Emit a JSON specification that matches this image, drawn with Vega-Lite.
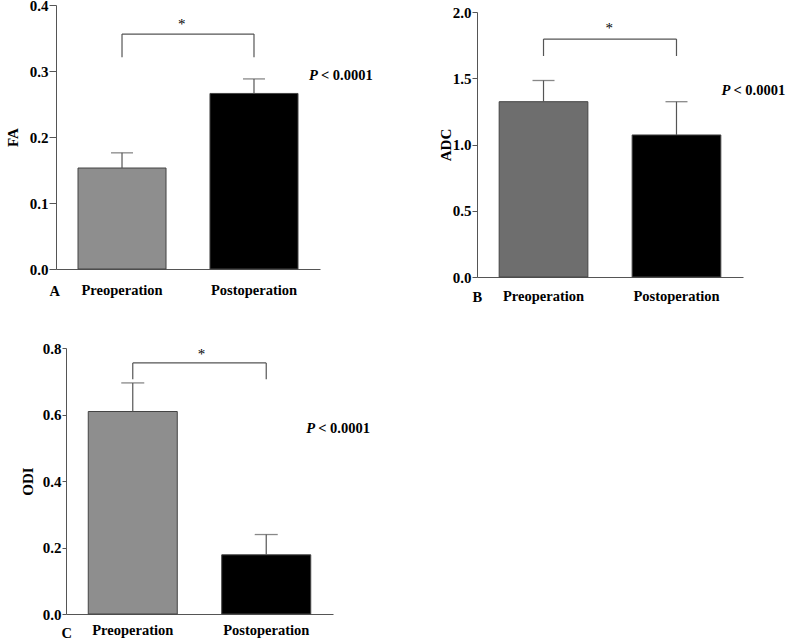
{
  "$schema": "https://vega.github.io/schema/vega-lite/v6.json",
  "padding": {"left": 5, "top": -2, "right": 0, "bottom": 0},
  "background": "white",
  "config": {
    "view": {"stroke": null},
    "font": "Liberation Serif",
    "axis": {
      "labelFont": "Liberation Serif",
      "labelFontWeight": "bold",
      "labelFontSize": 15,
      "labelColor": "#000000",
      "titleFont": "Liberation Serif",
      "titleFontWeight": "bold",
      "titleFontSize": 15,
      "titleColor": "#000000",
      "domainColor": "#555555",
      "tickColor": "#555555",
      "grid": false
    },
    "axisY": {"tickSize": 6, "labelPadding": 1},
    "axisX": {"ticks": false, "tickSize": 0, "labelAngle": 0, "titleAngle": 0, "titleAlign": "left", "titleBaseline": "middle", "labelFontSize": 14.5, "titleFontSize": 14.5},
    "text": {"font": "Liberation Serif", "fontWeight": "bold", "fontSize": 14.5, "align": "left", "baseline": "middle", "color": "#000000"}
  },
  "resolve": {"scale": {"color": "independent"}},
  "vconcat": [
    {
      "resolve": {"scale": {"color": "independent"}},
      "hconcat": [
        {
          "width": 264,
          "height": 264,
          "layer": [
            {
              "data": {"values": [
                {"group": "Preoperation", "value": 0.153, "upper": 0.176},
                {"group": "Postoperation", "value": 0.266, "upper": 0.288}
              ]},
              "mark": {"type": "bar", "stroke": "#444444", "strokeWidth": 1},
              "encoding": {
                "x": {"field": "group", "type": "nominal", "sort": ["Preoperation", "Postoperation"], "scale": {"paddingInner": 0.333, "paddingOuter": 0.1667}, "axis": {"title": "A", "titleX": -7, "titleY": 22, "labelPadding": 14}},
                "y": {"field": "value", "type": "quantitative", "scale": {"domain": [0, 0.4]}, "axis": {"title": "FA", "values": [0, 0.1, 0.2, 0.3, 0.4], "format": ".1f", "titlePadding": 9, "tickSize": 7}},
                "color": {"field": "group", "type": "nominal", "scale": {"domain": ["Preoperation", "Postoperation"], "range": ["#8e8e8e", "#000000"]}, "legend": null}
              }
            },
            {
              "data": {"values": [
                {"group": "Preoperation", "value": 0.153, "upper": 0.176},
                {"group": "Postoperation", "value": 0.266, "upper": 0.288}
              ]},
              "mark": {"type": "rule", "color": "#555555", "strokeWidth": 1.2},
              "encoding": {
                "x": {"field": "group", "type": "nominal", "sort": ["Preoperation", "Postoperation"]},
                "y": {"field": "value", "type": "quantitative"},
                "y2": {"field": "upper"}
              }
            },
            {
              "data": {"values": [
                {"group": "Preoperation", "upper": 0.176},
                {"group": "Postoperation", "upper": 0.288}
              ]},
              "mark": {"type": "tick", "color": "#555555", "size": 22, "thickness": 1.3},
              "encoding": {
                "x": {"field": "group", "type": "nominal", "sort": ["Preoperation", "Postoperation"]},
                "y": {"field": "upper", "type": "quantitative"}
              }
            },
            {
              "data": {"values": [{"group": "Preoperation", "group2": "Postoperation", "level": 0.356}]},
              "mark": {"type": "rule", "color": "#555555", "strokeWidth": 1.2},
              "encoding": {
                "x": {"field": "group", "type": "nominal", "sort": ["Preoperation", "Postoperation"]},
                "x2": {"field": "group2"},
                "y": {"field": "level", "type": "quantitative"}
              }
            },
            {
              "data": {"values": [
                {"group": "Preoperation", "level": 0.356, "drop": 0.321},
                {"group": "Postoperation", "level": 0.356, "drop": 0.321}
              ]},
              "mark": {"type": "rule", "color": "#555555", "strokeWidth": 1.2},
              "encoding": {
                "x": {"field": "group", "type": "nominal", "sort": ["Preoperation", "Postoperation"]},
                "y": {"field": "drop", "type": "quantitative"},
                "y2": {"field": "level"}
              }
            },
            {
              "data": {"values": [{"group": "Preoperation", "pos": 0.371, "label": "*"}]},
              "mark": {"type": "text", "dx": 56, "fontWeight": "normal", "fontSize": 15},
              "encoding": {
                "x": {"field": "group", "type": "nominal", "sort": ["Preoperation", "Postoperation"]},
                "y": {"field": "pos", "type": "quantitative"},
                "text": {"field": "label"}
              }
            },
            {
              "data": {"values": [{"group": "Postoperation", "pos": 0.292, "label": "P"}]},
              "mark": {"type": "text", "dx": 55, "fontStyle": "italic"},
              "encoding": {
                "x": {"field": "group", "type": "nominal", "sort": ["Preoperation", "Postoperation"]},
                "y": {"field": "pos", "type": "quantitative"},
                "text": {"field": "label"}
              }
            },
            {
              "data": {"values": [{"group": "Postoperation", "pos": 0.292, "label": "< 0.0001"}]},
              "mark": {"type": "text", "dx": 67},
              "encoding": {
                "x": {"field": "group", "type": "nominal", "sort": ["Preoperation", "Postoperation"]},
                "y": {"field": "pos", "type": "quantitative"},
                "text": {"field": "label"}
              }
            }
          ]
        },
        {
          "vconcat": [
            {
              "width": 1,
              "height": 1,
              "data": {"values": []},
              "mark": {"type": "point", "opacity": 0},
              "encoding": {}
            },
            {
              "width": 266,
              "height": 265,
              "layer": [
                {
                  "data": {"values": [
                    {"group": "Preoperation", "value": 1.323, "upper": 1.483},
                    {"group": "Postoperation", "value": 1.072, "upper": 1.323}
                  ]},
                  "mark": {"type": "bar", "stroke": "#444444", "strokeWidth": 1},
                  "encoding": {
                    "x": {"field": "group", "type": "nominal", "sort": ["Preoperation", "Postoperation"], "scale": {"paddingInner": 0.333, "paddingOuter": 0.1667}, "axis": {"title": "B", "titleX": -5, "titleY": 20, "labelPadding": 12}},
                    "y": {"field": "value", "type": "quantitative", "scale": {"domain": [0, 2]}, "axis": {"title": "ADC", "values": [0, 0.5, 1, 1.5, 2], "format": ".1f", "titlePadding": -1, "tickSize": 5}},
                    "color": {"field": "group", "type": "nominal", "scale": {"domain": ["Preoperation", "Postoperation"], "range": ["#6e6e6e", "#000000"]}, "legend": null}
                  }
                },
                {
                  "data": {"values": [
                    {"group": "Preoperation", "value": 1.323, "upper": 1.483},
                    {"group": "Postoperation", "value": 1.072, "upper": 1.323}
                  ]},
                  "mark": {"type": "rule", "color": "#555555", "strokeWidth": 1.2},
                  "encoding": {
                    "x": {"field": "group", "type": "nominal", "sort": ["Preoperation", "Postoperation"]},
                    "y": {"field": "value", "type": "quantitative"},
                    "y2": {"field": "upper"}
                  }
                },
                {
                  "data": {"values": [
                    {"group": "Preoperation", "upper": 1.483},
                    {"group": "Postoperation", "upper": 1.323}
                  ]},
                  "mark": {"type": "tick", "color": "#555555", "size": 22, "thickness": 1.3},
                  "encoding": {
                    "x": {"field": "group", "type": "nominal", "sort": ["Preoperation", "Postoperation"]},
                    "y": {"field": "upper", "type": "quantitative"}
                  }
                },
                {
                  "data": {"values": [{"group": "Preoperation", "group2": "Postoperation", "level": 1.796}]},
                  "mark": {"type": "rule", "color": "#555555", "strokeWidth": 1.2},
                  "encoding": {
                    "x": {"field": "group", "type": "nominal", "sort": ["Preoperation", "Postoperation"]},
                    "x2": {"field": "group2"},
                    "y": {"field": "level", "type": "quantitative"}
                  }
                },
                {
                  "data": {"values": [
                    {"group": "Preoperation", "level": 1.796, "drop": 1.668},
                    {"group": "Postoperation", "level": 1.796, "drop": 1.668}
                  ]},
                  "mark": {"type": "rule", "color": "#555555", "strokeWidth": 1.2},
                  "encoding": {
                    "x": {"field": "group", "type": "nominal", "sort": ["Preoperation", "Postoperation"]},
                    "y": {"field": "drop", "type": "quantitative"},
                    "y2": {"field": "level"}
                  }
                },
                {
                  "data": {"values": [{"group": "Preoperation", "pos": 1.879, "label": "*"}]},
                  "mark": {"type": "text", "dx": 62, "fontWeight": "normal", "fontSize": 15},
                  "encoding": {
                    "x": {"field": "group", "type": "nominal", "sort": ["Preoperation", "Postoperation"]},
                    "y": {"field": "pos", "type": "quantitative"},
                    "text": {"field": "label"}
                  }
                },
                {
                  "data": {"values": [{"group": "Postoperation", "pos": 1.404, "label": "P"}]},
                  "mark": {"type": "text", "dx": 45, "fontStyle": "italic"},
                  "encoding": {
                    "x": {"field": "group", "type": "nominal", "sort": ["Preoperation", "Postoperation"]},
                    "y": {"field": "pos", "type": "quantitative"},
                    "text": {"field": "label"}
                  }
                },
                {
                  "data": {"values": [{"group": "Postoperation", "pos": 1.404, "label": "< 0.0001"}]},
                  "mark": {"type": "text", "dx": 57},
                  "encoding": {
                    "x": {"field": "group", "type": "nominal", "sort": ["Preoperation", "Postoperation"]},
                    "y": {"field": "pos", "type": "quantitative"},
                    "text": {"field": "label"}
                  }
                }
              ]
            }
          ],
          "spacing": -1
        }
      ],
      "spacing": 65
    },
    {
      "hconcat": [
        {
          "width": 1,
          "height": 1,
          "data": {"values": []},
          "mark": {"type": "point", "opacity": 0},
          "encoding": {}
        },
        {
          "width": 267,
          "height": 266,
          "layer": [
            {
              "data": {"values": [
                {"group": "Preoperation", "value": 0.609, "upper": 0.695},
                {"group": "Postoperation", "value": 0.178, "upper": 0.239}
              ]},
              "mark": {"type": "bar", "stroke": "#444444", "strokeWidth": 1},
              "encoding": {
                "x": {"field": "group", "type": "nominal", "sort": ["Preoperation", "Postoperation"], "scale": {"paddingInner": 0.333, "paddingOuter": 0.1667}, "axis": {"title": "C", "titleX": -5, "titleY": 19, "labelPadding": 9}},
                "y": {"field": "value", "type": "quantitative", "scale": {"domain": [0, 0.8]}, "axis": {"title": "ODI", "values": [0, 0.2, 0.4, 0.6, 0.8], "format": ".1f", "titlePadding": 7, "tickSize": 4}},
                "color": {"field": "group", "type": "nominal", "scale": {"domain": ["Preoperation", "Postoperation"], "range": ["#8e8e8e", "#000000"]}, "legend": null}
              }
            },
            {
              "data": {"values": [
                {"group": "Preoperation", "value": 0.609, "upper": 0.695},
                {"group": "Postoperation", "value": 0.178, "upper": 0.239}
              ]},
              "mark": {"type": "rule", "color": "#555555", "strokeWidth": 1.2},
              "encoding": {
                "x": {"field": "group", "type": "nominal", "sort": ["Preoperation", "Postoperation"]},
                "y": {"field": "value", "type": "quantitative"},
                "y2": {"field": "upper"}
              }
            },
            {
              "data": {"values": [
                {"group": "Preoperation", "upper": 0.695},
                {"group": "Postoperation", "upper": 0.239}
              ]},
              "mark": {"type": "tick", "color": "#555555", "size": 23, "thickness": 1.3},
              "encoding": {
                "x": {"field": "group", "type": "nominal", "sort": ["Preoperation", "Postoperation"]},
                "y": {"field": "upper", "type": "quantitative"}
              }
            },
            {
              "data": {"values": [{"group": "Preoperation", "group2": "Postoperation", "level": 0.755}]},
              "mark": {"type": "rule", "color": "#555555", "strokeWidth": 1.2},
              "encoding": {
                "x": {"field": "group", "type": "nominal", "sort": ["Preoperation", "Postoperation"]},
                "x2": {"field": "group2"},
                "y": {"field": "level", "type": "quantitative"}
              }
            },
            {
              "data": {"values": [
                {"group": "Preoperation", "level": 0.755, "drop": 0.706},
                {"group": "Postoperation", "level": 0.755, "drop": 0.706}
              ]},
              "mark": {"type": "rule", "color": "#555555", "strokeWidth": 1.2},
              "encoding": {
                "x": {"field": "group", "type": "nominal", "sort": ["Preoperation", "Postoperation"]},
                "y": {"field": "drop", "type": "quantitative"},
                "y2": {"field": "level"}
              }
            },
            {
              "data": {"values": [{"group": "Preoperation", "pos": 0.781, "label": "*"}]},
              "mark": {"type": "text", "dx": 65, "fontWeight": "normal", "fontSize": 15},
              "encoding": {
                "x": {"field": "group", "type": "nominal", "sort": ["Preoperation", "Postoperation"]},
                "y": {"field": "pos", "type": "quantitative"},
                "text": {"field": "label"}
              }
            },
            {
              "data": {"values": [{"group": "Postoperation", "pos": 0.556, "label": "P"}]},
              "mark": {"type": "text", "dx": 40, "fontStyle": "italic"},
              "encoding": {
                "x": {"field": "group", "type": "nominal", "sort": ["Preoperation", "Postoperation"]},
                "y": {"field": "pos", "type": "quantitative"},
                "text": {"field": "label"}
              }
            },
            {
              "data": {"values": [{"group": "Postoperation", "pos": 0.556, "label": "< 0.0001"}]},
              "mark": {"type": "text", "dx": 52},
              "encoding": {
                "x": {"field": "group", "type": "nominal", "sort": ["Preoperation", "Postoperation"]},
                "y": {"field": "pos", "type": "quantitative"},
                "text": {"field": "label"}
              }
            }
          ]
        }
      ],
      "spacing": -37
    }
  ],
  "spacing": 37
}
